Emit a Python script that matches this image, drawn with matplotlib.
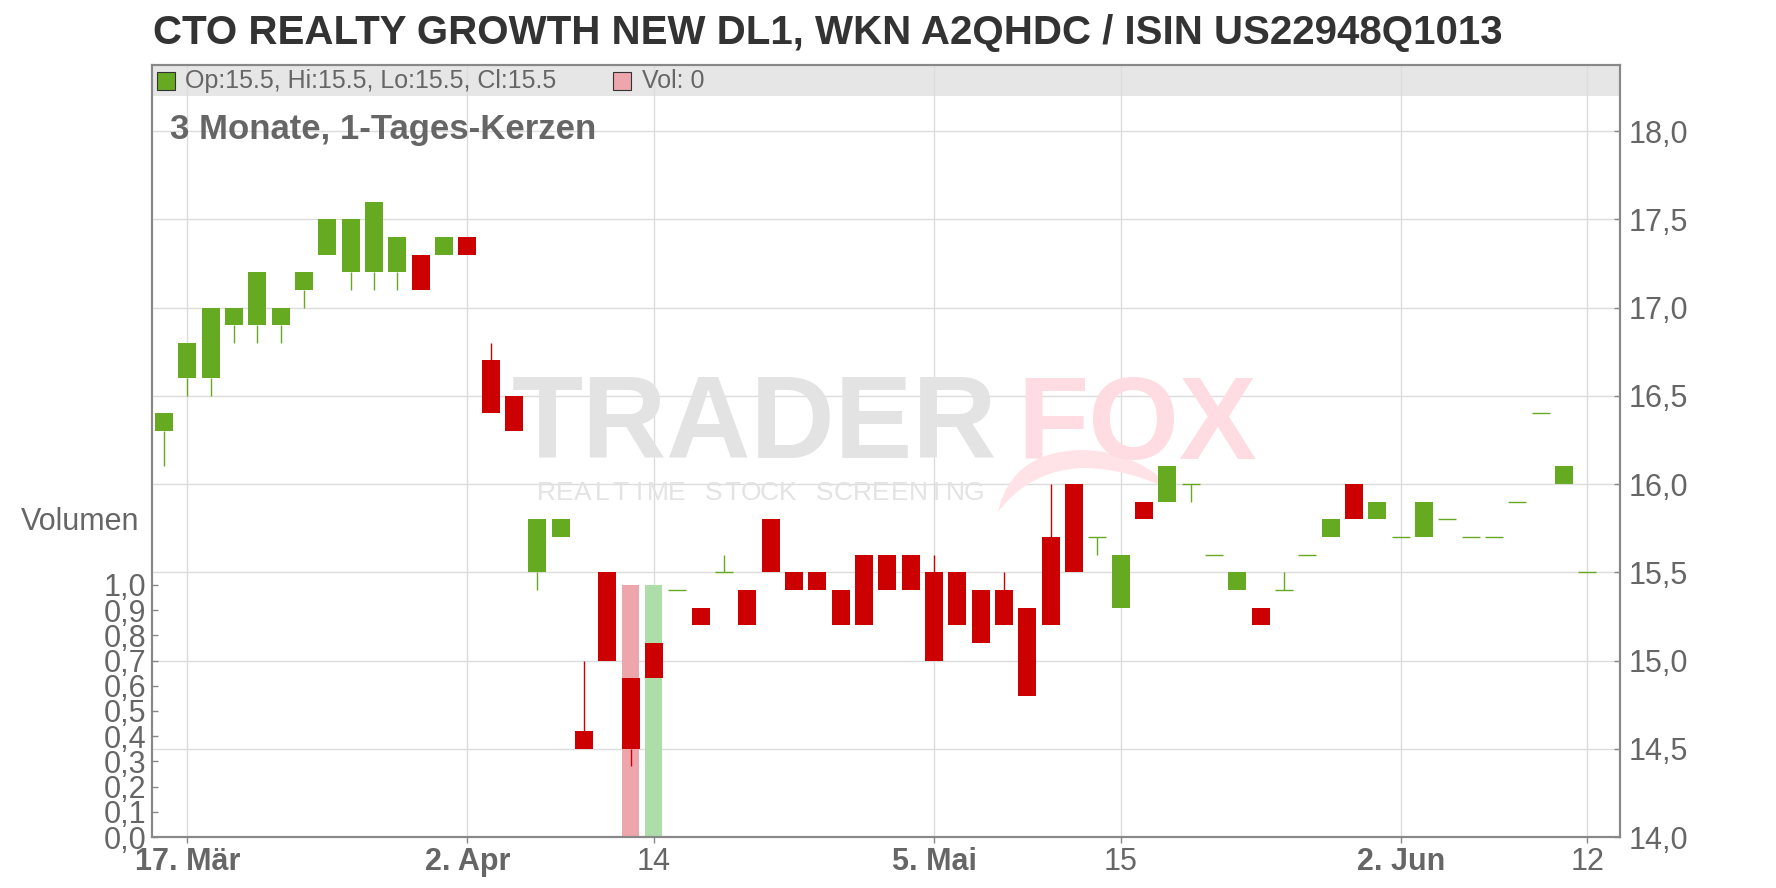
import matplotlib
matplotlib.use('Agg')
import matplotlib.pyplot as plt
import matplotlib.transforms as mtransforms
from matplotlib.patches import Rectangle, PathPatch
from matplotlib.path import Path
from matplotlib.ticker import FuncFormatter, FixedLocator
import pandas as pd

plt.rcParams['font.family'] = ['Liberation Sans', 'DejaVu Sans']

# Handelstage (Börse Deutschland, ohne Karfreitag, Ostermontag, 1. Mai)
holidays = ['2025-04-18', '2025-04-21', '2025-05-01']
dates = [d for d in pd.bdate_range('2025-03-14', '2025-06-12')
         if d.strftime('%Y-%m-%d') not in holidays]

opens = [16.3, 16.6, 16.6, 16.9, 16.9, 16.9, 17.1, 17.3, 17.2, 17.2, 17.2, 17.3, 17.3, 17.4,
         16.7, 16.5, 15.5, 15.7, 14.6, 15.5, 14.9, 15.1, 15.4, 15.3, 15.5, 15.4, 15.8, 15.5,
         15.5, 15.4, 15.6, 15.6, 15.6, 15.5, 15.5, 15.4, 15.4, 15.3, 15.7, 16.0, 15.7, 15.3,
         15.9, 15.9, 16.0, 15.6, 15.4, 15.3, 15.4, 15.6, 15.7, 16.0, 15.8, 15.7, 15.7, 15.8,
         15.7, 15.7, 15.9, 16.4, 16.0, 15.5]
highs = [16.4, 16.8, 17.0, 17.0, 17.2, 17.0, 17.2, 17.5, 17.5, 17.6, 17.4, 17.3, 17.4, 17.4,
         16.8, 16.5, 15.8, 15.8, 15.0, 15.5, 14.9, 15.1, 15.4, 15.3, 15.6, 15.4, 15.8, 15.5,
         15.5, 15.4, 15.6, 15.6, 15.6, 15.6, 15.5, 15.4, 15.5, 15.3, 16.0, 16.0, 15.7, 15.6,
         15.9, 16.1, 16.0, 15.6, 15.5, 15.3, 15.5, 15.6, 15.8, 16.0, 15.9, 15.7, 15.9, 15.8,
         15.7, 15.7, 15.9, 16.4, 16.1, 15.5]
lows = [16.1, 16.5, 16.5, 16.8, 16.8, 16.8, 17.0, 17.3, 17.1, 17.1, 17.1, 17.1, 17.3, 17.3,
        16.4, 16.3, 15.4, 15.7, 14.5, 15.0, 14.4, 14.9, 15.4, 15.2, 15.5, 15.2, 15.5, 15.4,
        15.4, 15.2, 15.2, 15.4, 15.4, 15.0, 15.2, 15.1, 15.2, 14.8, 15.2, 15.5, 15.6, 15.3,
        15.8, 15.9, 15.9, 15.6, 15.4, 15.2, 15.4, 15.6, 15.7, 15.8, 15.8, 15.7, 15.7, 15.8,
        15.7, 15.7, 15.9, 16.4, 16.0, 15.5]
closes = [16.4, 16.8, 17.0, 17.0, 17.2, 17.0, 17.2, 17.5, 17.5, 17.6, 17.4, 17.1, 17.4, 17.3,
          16.4, 16.3, 15.8, 15.8, 14.5, 15.0, 14.5, 14.9, 15.4, 15.2, 15.5, 15.2, 15.5, 15.4,
          15.4, 15.2, 15.2, 15.4, 15.4, 15.0, 15.2, 15.1, 15.2, 14.8, 15.2, 15.5, 15.7, 15.6,
          15.8, 16.1, 16.0, 15.6, 15.5, 15.2, 15.4, 15.6, 15.8, 15.8, 15.9, 15.7, 15.9, 15.8,
          15.7, 15.7, 15.9, 16.4, 16.1, 15.5]
volumes = [0] * 62
volumes[20] = 1
volumes[21] = 1

tick_dates = ['2025-03-17', '2025-04-02', '2025-04-14', '2025-05-05',
              '2025-05-15', '2025-06-02', '2025-06-12']
tick_labels = ['17. Mär', '2. Apr', '14', '5. Mai', '15', '2. Jun', '12']
price_ticks = [14.0, 14.5, 15.0, 15.5, 16.0, 16.5, 17.0, 17.5, 18.0]
vol_ticks = [0.0, 0.1, 0.2, 0.3, 0.4, 0.5, 0.6, 0.7, 0.8, 0.9, 1.0]

GREEN = '#66aa22'
RED = '#cc0000'
VOL_GREEN = '#addeaa'
VOL_RED = '#eea6ad'
GRID = '#dcdcdc'
TXT = '#666666'
AXC = '#888888'

fig = plt.figure(figsize=(17.76, 8.88), dpi=100)
L, R, T, B = 152, 1620, 65, 837
axv = fig.add_axes([L / 1776, 1 - B / 888, (R - L) / 1776, (B - T) / 888])
ax = axv.twinx()

x = list(range(len(dates)))
date_str = [d.strftime('%Y-%m-%d') for d in dates]
tick_pos = [date_str.index(t) for t in tick_dates]

# Volumen (untere Ebene)
vcol = [VOL_GREEN if i > 0 and closes[i] >= closes[i - 1] else VOL_RED for i in x]
axv.bar(x, volumes, width=0.73, color=vcol, zorder=2)
axv.set_ylim(0, (B - T) / 252)
axv.set_xlim(-0.51, 62.4)
axv.yaxis.set_major_locator(FixedLocator(vol_ticks))
axv.yaxis.set_major_formatter(FuncFormatter(lambda v, p: f'{v:.1f}'.replace('.', ',')))

# Kopfzeile
axv.add_patch(Rectangle((0, 1 - 31 / (B - T)), 1, 31 / (B - T), transform=axv.transAxes,
                        facecolor='#e6e6e6', edgecolor='none', zorder=0.1))

# Gitter
for tp in tick_pos:
    axv.axvline(tp, color=GRID, lw=1.0, zorder=0.5)
trans = mtransforms.blended_transform_factory(axv.transAxes, ax.transData)
for p in price_ticks:
    axv.plot([0, 1], [p, p], transform=trans, color=GRID, lw=1.0, zorder=0.5)

# Wasserzeichen
def px(xp, yp):
    return (xp / 1776, 1 - yp / 888)

swoosh = Path([px(998, 512), px(1012, 450), px(1085, 450), px(1140, 452), px(1178, 494),
               px(1130, 468), px(1082, 468), px(1030, 470), px(998, 512)],
              [Path.MOVETO, Path.CURVE3, Path.CURVE3, Path.CURVE3, Path.CURVE3,
               Path.CURVE3, Path.CURVE3, Path.CURVE3, Path.CURVE3])
axv.add_patch(PathPatch(swoosh, transform=fig.transFigure, facecolor='#ffe3e7',
                        edgecolor='none', zorder=0.9, clip_on=False))
axv.text((512 - L) / (R - L), (B - 428) / (B - T), 'TRADER', transform=axv.transAxes,
         fontsize=84, fontweight='bold', color='#e3e3e3', va='center', ha='left', zorder=1)
axv.text((1017 - L) / (R - L), (B - 428) / (B - T), 'FOX', transform=axv.transAxes,
         fontsize=84, fontweight='bold', color='#ffdce1', va='center', ha='left', zorder=1)
wm = 'REALTIME STOCK SCREENING'
for k, ch in enumerate(wm):
    axv.text((546 + k * 18.6 - L) / (R - L), (B - 493) / (B - T), ch, transform=axv.transAxes,
             fontsize=19, color='#e3e3e3', va='center', ha='center', zorder=1)

# Kerzen
for i in x:
    o, h, l, c = opens[i], highs[i], lows[i], closes[i]
    col = GREEN if c >= o else RED
    lo_b, hi_b = min(o, c), max(o, c)
    if h > hi_b:
        ax.vlines(i, hi_b, h, color=col, lw=1.0, zorder=2)
    if l < lo_b:
        ax.vlines(i, l, lo_b, color=col, lw=1.0, zorder=2)
    if hi_b > lo_b:
        ax.bar(i, hi_b - lo_b, bottom=lo_b, width=0.77, color=col, zorder=3)
    else:
        ax.hlines(o, i - 0.385, i + 0.385, color=col, lw=1.0, zorder=3)

ax.set_ylim(14.0, 18.0 + (131 - T) / 176.4)
ax.yaxis.set_major_locator(FixedLocator(price_ticks))
ax.yaxis.set_major_formatter(FuncFormatter(lambda v, p: f'{v:.1f}'.replace('.', ',')))

# Achsen
axv.set_xticks(tick_pos)
axv.set_xticklabels(tick_labels)
for lab, txt in zip(axv.get_xticklabels(), tick_labels):
    if '.' in txt:
        lab.set_fontweight('bold')
axv.tick_params(axis='x', direction='out', length=4, width=1, color=AXC,
                labelsize=22, labelcolor=TXT, pad=3)
axv.tick_params(axis='y', direction='in', length=4, width=1, color=AXC,
                labelsize=22, labelcolor=TXT, pad=4)
ax.tick_params(axis='y', direction='in', length=4, width=1, color=AXC,
               labelsize=22, labelcolor=TXT, pad=6)
for a in (ax, axv):
    for s in a.spines.values():
        s.set_color(AXC)
        s.set_linewidth(1.5)

# Texte
fig.text(153 / 1776, 1 - 33 / 888, 'CTO REALTY GROWTH NEW DL1, WKN A2QHDC / ISIN US22948Q1013',
         fontsize=29, fontweight='bold', color='#333333', va='center', ha='left')
fig.text(139 / 1776, 1 - 522 / 888, 'Volumen', fontsize=22, color=TXT, va='center', ha='right')
ax.text((170 - L) / (R - L), (B - 129) / (B - T), '3 Monate, 1-Tages-Kerzen',
        transform=ax.transAxes, fontsize=25, fontweight='bold', color=TXT, va='center', ha='left')

sq = 18
ax.add_patch(Rectangle(((157 - L) / (R - L), (B - 90) / (B - T)), sq / (R - L), sq / (B - T),
                       transform=ax.transAxes, facecolor=GREEN, edgecolor='#333333', lw=0.8,
                       clip_on=False))
ax.text((185 - L) / (R - L), (B - 81) / (B - T), 'Op:15.5, Hi:15.5, Lo:15.5, Cl:15.5',
        transform=ax.transAxes, fontsize=18, color=TXT, va='center', ha='left')
ax.add_patch(Rectangle(((613 - L) / (R - L), (B - 90) / (B - T)), sq / (R - L), sq / (B - T),
                       transform=ax.transAxes, facecolor=VOL_RED, edgecolor='#333333', lw=0.8,
                       clip_on=False))
ax.text((642 - L) / (R - L), (B - 81) / (B - T), 'Vol: 0',
        transform=ax.transAxes, fontsize=18, color=TXT, va='center', ha='left')

fig.savefig('out.png', dpi=100, facecolor='white')
